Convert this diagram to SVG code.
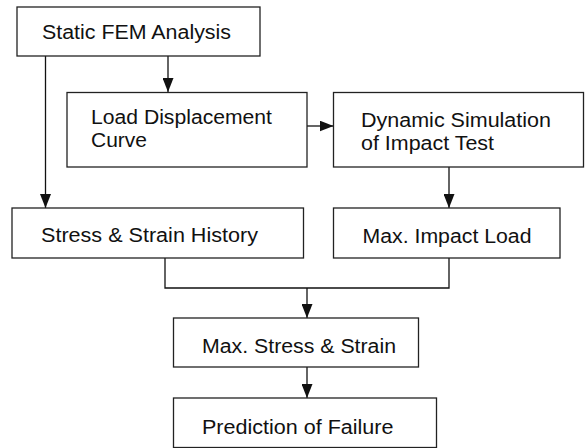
<svg xmlns="http://www.w3.org/2000/svg" width="586" height="448" viewBox="0 0 586 448">
<defs>
<style>
.box{fill:#fff;stroke:#222;stroke-width:1.3}
.t{font-family:"Liberation Sans",Arial,sans-serif;font-size:19.5px;fill:#111}
.ln{fill:none;stroke:#111;stroke-width:1.3}
</style>
<marker id="ah" viewBox="0 0 14 11" refX="14" refY="5.5" markerWidth="14" markerHeight="11" markerUnits="userSpaceOnUse" orient="auto">
<path d="M0,0 L14,5.5 L0,11 Z" fill="#111"/>
</marker>
</defs>
<rect width="586" height="448" fill="#fff"/>
<g id="connectors">
<line class="ln" x1="168" y1="56" x2="168" y2="92" marker-end="url(#ah)"/>
<line class="ln" x1="45.5" y1="56" x2="45.5" y2="208" marker-end="url(#ah)"/>
<line class="ln" x1="307" y1="126" x2="333.5" y2="126" marker-end="url(#ah)"/>
<line class="ln" x1="449" y1="167" x2="449" y2="208" marker-end="url(#ah)"/>
<polyline class="ln" points="165,258 165,288 449,288 449,258"/>
<line class="ln" x1="307" y1="288" x2="307" y2="318" marker-end="url(#ah)"/>
<line class="ln" x1="307" y1="367" x2="307" y2="398" marker-end="url(#ah)"/>
</g>
<g id="n1">
<rect class="box" x="17" y="7" width="243" height="49"/>
<text class="t" x="42" y="39" textLength="189" lengthAdjust="spacingAndGlyphs">Static FEM Analysis</text>
</g>
<g id="n2">
<rect class="box" x="67" y="92.5" width="240" height="74.5"/>
<text class="t" x="91" y="124" textLength="181" lengthAdjust="spacingAndGlyphs">Load Displacement</text>
<text class="t" x="91" y="147" textLength="56" lengthAdjust="spacingAndGlyphs">Curve</text>
</g>
<g id="n3">
<rect class="box" x="333.5" y="92.5" width="250" height="74.5"/>
<text class="t" x="361" y="127" textLength="190" lengthAdjust="spacingAndGlyphs">Dynamic Simulation</text>
<text class="t" x="361" y="149.5" textLength="133" lengthAdjust="spacingAndGlyphs">of Impact Test</text>
</g>
<g id="n4">
<rect class="box" x="12" y="208" width="291.5" height="50"/>
<text class="t" x="41" y="242" textLength="217" lengthAdjust="spacingAndGlyphs">Stress &amp; Strain History</text>
</g>
<g id="n5">
<rect class="box" x="333.5" y="208" width="226.5" height="50"/>
<text class="t" x="362.5" y="242.5" textLength="169" lengthAdjust="spacingAndGlyphs">Max. Impact Load</text>
</g>
<g id="n6">
<rect class="box" x="173.5" y="318" width="245" height="49"/>
<text class="t" x="202" y="353" textLength="194" lengthAdjust="spacingAndGlyphs">Max. Stress &amp; Strain</text>
</g>
<g id="n7">
<rect class="box" x="173.5" y="398" width="263" height="49.5"/>
<text class="t" x="202" y="434" textLength="191.5" lengthAdjust="spacingAndGlyphs">Prediction of Failure</text>
</g>
</svg>
